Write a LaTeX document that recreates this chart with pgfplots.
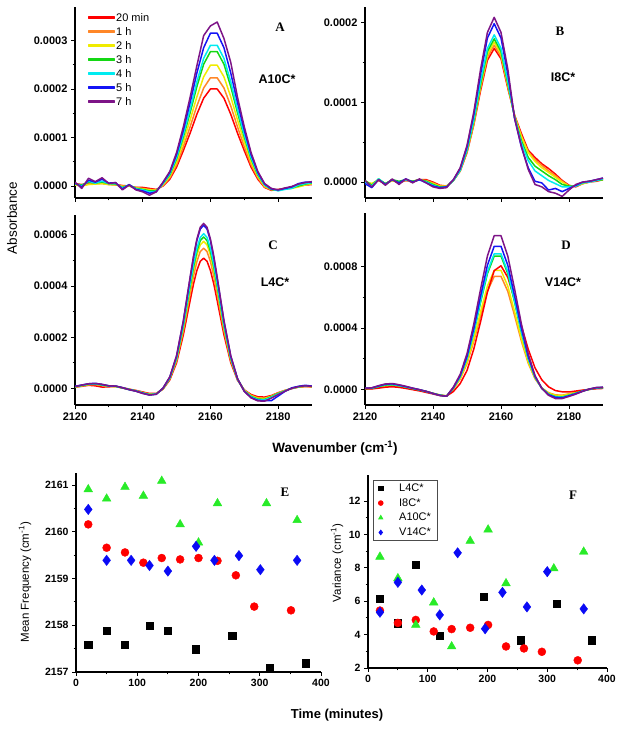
\documentclass[border=0pt]{standalone}
\usepackage{pgfplots}
\usepackage{pgfplotstable}
\pgfplotsset{compat=1.18}
\usepackage{fontspec}
\setmainfont{Liberation Sans}
\newfontfamily\seriffont{Liberation Serif}

\definecolor{cR}{RGB}{255,0,0}
\definecolor{cO}{RGB}{255,135,40}
\definecolor{cY}{RGB}{240,235,0}
\definecolor{cG}{RGB}{20,215,20}
\definecolor{cC}{RGB}{0,235,240}
\definecolor{cB}{RGB}{20,20,245}
\definecolor{cP}{RGB}{125,20,135}
\definecolor{mG}{RGB}{40,235,40}
\definecolor{mB}{RGB}{10,10,245}

% absorbance values in units of 1e-4
\pgfplotstableread{
x R O Y G C B P
2120 .05 .03 .02 .04 .05 .06 .08
2122 .03 .02 .00 .02 .00 -.02 -.05
2124 .06 .04 .03 .08 .10 .12 .16
2126 .07 .05 .04 .06 .06 .08 .09
2128 .06 .05 .05 .08 .10 .14 .17
2130 .04 .03 .03 .05 .05 .06 .05
2132 .03 .02 .03 .04 .05 .07 .07
2134 .01 .00 -.01 -.03 -.04 -.06 -.08
2136 .00 .00 .00 .02 .02 .03 .02
2138 -.03 -.03 -.04 -.05 -.06 -.07 -.08
2140 -.03 -.05 -.06 -.07 -.08 -.10 -.12
2142 -.05 -.07 -.08 -.10 -.12 -.15 -.19
2144 -.07 -.08 -.09 -.10 -.11 -.12 -.12
2146 .00 .01 .03 .05 .05 .07 .08
2148 .14 .17 .20 .23 .25 .28 .30
2150 .39 .44 .50 .56 .59 .65 .69
2152 .73 .81 .91 1.01 1.06 1.15 1.22
2154 1.09 1.22 1.36 1.51 1.58 1.72 1.83
2156 1.48 1.65 1.84 2.05 2.15 2.33 2.48
2158 1.81 2.02 2.25 2.51 2.63 2.85 3.10
2160 2.00 2.23 2.49 2.77 2.90 3.15 3.30
2162 2.00 2.23 2.49 2.77 2.90 3.15 3.38
2164 1.81 2.02 2.25 2.51 2.63 2.85 3.04
2166 1.48 1.65 1.84 2.05 2.15 2.33 2.55
2168 1.09 1.22 1.36 1.51 1.58 1.72 1.83
2170 .73 .81 .91 1.01 1.06 1.15 1.22
2172 .39 .44 .50 .56 .59 .65 .69
2174 .14 .17 .20 .23 .25 .28 .30
2176 -.03 -.02 .00 .02 .02 .04 .05
2178 -.09 -.08 -.07 -.07 -.06 -.06 -.05
2180 -.07 -.08 -.08 -.09 -.10 -.08 -.08
2182 -.05 -.05 -.06 -.06 -.07 -.05 -.04
2184 -.03 -.04 -.05 -.04 -.05 -.02 -.01
2186 .00 .00 -.02 .00 .02 .05 .04
2188 .02 .03 .02 .04 .05 .08 .07
2190 .03 .04 .05 .06 .07 .08 .09
}\tabA

\pgfplotstableread{
x R O Y G C B P
2120 .00 .00 .01 .02 .00 -.02 .02
2122 -.03 -.02 -.02 -.04 -.05 -.07 -.06
2124 .02 .02 .03 .04 .04 .03 .03
2126 -.02 -.02 -.03 -.02 -.03 -.03 -.04
2128 .02 .02 .02 .03 .03 .03 .04
2130 -.01 .00 .00 .01 -.01 -.01 -.03
2132 .02 .02 .03 .03 .03 .04 .04
2134 .01 .00 .01 .01 .00 .00 -.01
2136 .03 .03 .03 .03 .03 .03 .04
2138 .03 .02 .01 .01 .00 -.01 -.01
2140 .00 -.01 -.02 -.03 -.04 -.05 -.06
2142 -.04 -.05 -.05 -.06 -.07 -.07 -.08
2144 -.05 -.05 -.05 -.06 -.06 -.06 -.07
2146 .02 .02 .02 .02 .02 .03 .03
2148 .14 .14 .15 .15 .15 .17 .18
2150 .37 .38 .39 .40 .41 .44 .46
2152 .72 .73 .75 .77 .79 .85 .88
2154 1.15 1.18 1.21 1.23 1.27 1.36 1.42
2156 1.53 1.57 1.60 1.64 1.68 1.81 1.88
2158 1.68 1.72 1.76 1.80 1.85 1.99 2.07
2160 1.55 1.58 1.61 1.64 1.68 1.81 1.88
2162 1.18 1.20 1.22 1.24 1.27 1.36 1.42
2164 .84 .83 .83 .82 .81 .80 .80
2166 .61 .58 .57 .52 .49 .44 .45
2168 .40 .38 .37 .31 .27 .18 .16
2170 .31 .28 .26 .20 .14 .01 -.03
2172 .23 .21 .18 .14 .08 -.01 -.06
2174 .17 .14 .12 .08 .02 -.10 -.12
2176 .10 .08 .06 .03 -.02 -.08 -.14
2178 .02 .01 .00 -.03 -.06 -.12 -.18
2180 -.04 -.05 -.05 -.05 -.06 -.08 -.10
2182 -.06 -.05 -.05 -.05 -.05 -.04 -.03
2184 -.02 -.02 -.02 -.01 -.01 .00 .00
2186 .00 .01 .00 .01 .00 .01 .01
2188 .01 .02 .02 .02 .02 .03 .03
2190 .03 .04 .03 .03 .04 .05 .05
}\tabB

\pgfplotstableread{
x R O Y G C B P
2120 .05 .04 .06 .06 .07 .08 .07
2122 .08 .10 .10 .11 .12 .13 .13
2124 .12 .14 .15 .16 .17 .18 .18
2126 .10 .15 .17 .17 .18 .20 .19
2128 .05 .12 .12 .13 .14 .15 .16
2130 .06 .08 .08 .09 .10 .10 .10
2132 .08 .07 .07 .08 .08 .09 .09
2134 .03 .02 .01 .02 .02 .03 .02
2136 -.03 -.04 -.04 -.04 -.05 -.05 -.05
2138 -.08 -.09 -.10 -.10 -.10 -.11 -.11
2140 -.14 -.16 -.17 -.18 -.18 -.19 -.20
2142 -.20 -.22 -.23 -.24 -.25 -.26 -.26
2144 -.20 -.21 -.21 -.22 -.22 -.23 -.23
2146 -.03 -.02 -.01 -.01 .00 .01 .01
2148 .33 .37 .39 .40 .41 .44 .45
2150 1.00 1.08 1.13 1.17 1.20 1.26 1.28
2152 2.09 2.25 2.36 2.43 2.49 2.62 2.65
2154 3.43 3.69 3.88 3.99 4.08 4.30 4.35
2155 4.08 4.39 4.61 4.74 4.85 5.11 5.17
2156 4.61 4.96 5.21 5.36 5.48 5.78 5.84
2157 4.97 5.35 5.61 5.78 5.90 6.23 6.30
2158 5.09 5.48 5.75 5.92 6.05 6.38 6.45
2159 4.97 5.35 5.61 5.78 5.90 6.23 6.30
2160 4.61 4.96 5.21 5.36 5.48 5.78 5.84
2161 4.08 4.39 4.61 4.74 4.85 5.11 5.17
2162 3.43 3.69 3.88 3.99 4.08 4.30 4.35
2164 2.09 2.25 2.36 2.43 2.49 2.62 2.65
2166 1.01 1.09 1.13 1.17 1.20 1.26 1.28
2168 .32 .35 .36 .36 .36 .38 .38
2170 -.06 -.07 -.08 -.10 -.10 -.11 -.12
2172 -.24 -.27 -.29 -.31 -.33 -.36 -.37
2174 -.33 -.37 -.39 -.42 -.44 -.47 -.49
2176 -.34 -.38 -.40 -.43 -.45 -.48 -.50
2178 -.28 -.30 -.32 -.33 -.35 -.48 -.38
2180 -.17 -.18 -.20 -.20 -.22 -.30 -.24
2182 -.08 -.08 -.09 -.10 -.10 -.12 -.11
2184 -.01 .00 .00 .00 .00 .02 .00
2186 .05 .05 .06 .06 .07 .08 .07
2188 .07 .08 .08 .09 .10 .12 .10
2190 .06 .06 .07 .08 .08 .09 .08
}\tabC

\pgfplotstableread{
x R O Y G C B P
2120 .02 .03 .04 .05 .06 .07 .07
2122 .03 .05 .06 .07 .08 .10 .10
2124 .08 .12 .14 .18 .20 .22 .24
2126 .14 .20 .22 .28 .30 .33 .35
2128 .17 .22 .25 .30 .32 .36 .38
2130 .13 .18 .20 .24 .25 .28 .30
2132 .06 .10 .12 .15 .16 .18 .20
2134 -.02 .02 .03 .05 .06 .08 .08
2136 -.10 -.06 -.05 -.04 -.03 -.02 -.02
2138 -.20 -.15 -.14 -.14 -.14 -.13 -.13
2140 -.30 -.26 -.26 -.26 -.27 -.27 -.27
2142 -.40 -.36 -.37 -.38 -.38 -.39 -.40
2144 -.44 -.42 -.43 -.44 -.44 -.45 -.45
2146 -.14 .02 .04 .08 .09 .12 .15
2148 .38 .67 .72 .83 .84 .90 .98
2150 1.23 1.68 1.77 2.00 2.03 2.15 2.32
2152 2.63 3.14 3.30 3.70 3.76 3.97 4.26
2154 4.42 4.81 5.06 5.67 5.77 6.09 6.54
2156 6.34 6.39 6.73 7.54 7.67 8.09 8.69
2158 7.74 7.37 7.76 8.69 8.84 9.33 10.02
2160 8.06 7.37 7.76 8.69 8.84 9.33 10.02
2162 7.30 6.39 6.73 7.54 7.67 8.09 8.69
2164 5.85 4.81 5.06 5.67 5.77 6.09 6.54
2166 4.15 3.14 3.30 3.70 3.76 3.97 4.26
2168 2.62 1.71 1.79 2.01 2.03 2.15 2.31
2170 1.40 .69 .73 .80 .80 .85 .90
2172 .62 .09 .09 .07 .06 .07 .06
2174 .16 -.22 -.25 -.31 -.33 -.35 -.39
2176 -.08 -.36 -.39 -.47 -.50 -.52 -.60
2178 -.16 -.38 -.41 -.50 -.52 -.55 -.60
2180 -.17 -.29 -.31 -.38 -.40 -.42 -.46
2182 -.11 -.20 -.21 -.25 -.27 -.28 -.31
2184 -.05 -.08 -.09 -.11 -.11 -.12 -.13
2186 .00 .00 .00 .00 .01 .02 .02
2188 .04 .07 .08 .09 .10 .11 .12
2190 .06 .08 .09 .11 .12 .13 .14
}\tabD

\pgfplotsset{
  base/.style={
    scale only axis, axis x line*=bottom, axis y line*=left,
    tick align=outside, major tick length=4pt, minor tick length=2.5pt,
    axis line style={line width=1.2pt, black},
    tick style={black, line width=0.9pt},
    /pgf/number format/assume math mode=true,
    /pgf/number format/set thousands separator={},
    minor x tick num=1, minor y tick num=1,
  },
  spec/.style={base,
    xmin=2120, xmax=2190, xtick={2120,2140,2160,2180},
    ticklabel style={font=\bfseries\fontsize{11}{12}\selectfont},
  },
  sl/.style={line width=1.5pt, line join=round, mark=none},
  lg/.style={legend image code/.code={\fill[#1] (0pt,-0.7pt) rectangle (26pt,0.7pt);}},
  scat/.style={base,
    xmin=0, xmax=400, xtick={0,100,200,300,400},
    ticklabel style={font=\bfseries\fontsize{10.5}{12}\selectfont},
  },
  sqm/.style={only marks, mark=square*, mark size=3.6pt, draw=black, fill=black},
  cim/.style={only marks, mark=*, mark size=4pt, draw=cR, fill=cR},
  trm/.style={only marks, mark=triangle*, mark size=5pt, draw=mG, fill=mG},
  dim/.style={only marks, mark=diamond*, mark size=5.2pt, draw=mB, fill=mB},
}

\begin{document}
\begin{tikzpicture}[x=1pt,y=1pt]
\useasboundingbox (0,0) rectangle (624,730);

% ---------- A ----------
\begin{axis}[spec, at={(75pt,532pt)}, anchor=south west, width=237pt, height=191pt,
  ymin=-0.247, ymax=3.69, ytick={0,1,2,3},
  yticklabels={0.0000,0.0001,0.0002,0.0003}, xticklabels={},
  legend style={at={(axis description cs:0.04,0.985)}, anchor=north west,
    draw=none, fill=none, font=\fontsize{11}{12}\selectfont, row sep=3pt,
    nodes={inner sep=1pt, text height=8pt, text depth=1pt}},
  legend cell align=left]
\addplot[sl, draw=cR, lg=cR] table[x=x,y=R]{\tabA}; \addlegendentry{20 min}
\addplot[sl, draw=cO, lg=cO] table[x=x,y=O]{\tabA}; \addlegendentry{1 h}
\addplot[sl, draw=cY, lg=cY] table[x=x,y=Y]{\tabA}; \addlegendentry{2 h}
\addplot[sl, draw=cG, lg=cG] table[x=x,y=G]{\tabA}; \addlegendentry{3 h}
\addplot[sl, draw=cC, lg=cC] table[x=x,y=C]{\tabA}; \addlegendentry{4 h}
\addplot[sl, draw=cB, lg=cB] table[x=x,y=B]{\tabA}; \addlegendentry{5 h}
\addplot[sl, draw=cP, lg=cP] table[x=x,y=P]{\tabA}; \addlegendentry{7 h}
\end{axis}

% ---------- B ----------
\begin{axis}[spec, at={(365pt,532pt)}, anchor=south west, width=238pt, height=191pt,
  ymin=-0.20, ymax=2.20, ytick={0,1,2},
  yticklabels={0.0000,0.0001,0.0002}, xticklabels={}]
\addplot[sl, draw=cR] table[x=x,y=R]{\tabB};
\addplot[sl, draw=cO] table[x=x,y=O]{\tabB};
\addplot[sl, draw=cY] table[x=x,y=Y]{\tabB};
\addplot[sl, draw=cG] table[x=x,y=G]{\tabB};
\addplot[sl, draw=cC] table[x=x,y=C]{\tabB};
\addplot[sl, draw=cB] table[x=x,y=B]{\tabB};
\addplot[sl, draw=cP] table[x=x,y=P]{\tabB};
\end{axis}

% ---------- C ----------
\begin{axis}[spec, at={(75pt,325pt)}, anchor=south west, width=237pt, height=190pt,
  ymin=-0.65, ymax=6.78, ytick={0,2,4,6},
  yticklabels={0.0000,0.0002,0.0004,0.0006}]
\addplot[sl, draw=cR] table[x=x,y=R]{\tabC};
\addplot[sl, draw=cO] table[x=x,y=O]{\tabC};
\addplot[sl, draw=cY] table[x=x,y=Y]{\tabC};
\addplot[sl, draw=cG] table[x=x,y=G]{\tabC};
\addplot[sl, draw=cC] table[x=x,y=C]{\tabC};
\addplot[sl, draw=cB] table[x=x,y=B]{\tabC};
\addplot[sl, draw=cP] table[x=x,y=P]{\tabC};
\end{axis}

% ---------- D ----------
\begin{axis}[spec, at={(365pt,325pt)}, anchor=south west, width=238pt, height=192pt,
  ymin=-1.02, ymax=11.5, ytick={0,4,8},
  yticklabels={0.0000,0.0004,0.0008}]
\addplot[sl, draw=cO] table[x=x,y=O]{\tabD};
\addplot[sl, draw=cY] table[x=x,y=Y]{\tabD};
\addplot[sl, draw=cR] table[x=x,y=R]{\tabD};
\addplot[sl, draw=cG] table[x=x,y=G]{\tabD};
\addplot[sl, draw=cC] table[x=x,y=C]{\tabD};
\addplot[sl, draw=cB] table[x=x,y=B]{\tabD};
\addplot[sl, draw=cP] table[x=x,y=P]{\tabD};
\end{axis}

% ---------- E ----------
\begin{axis}[scat, at={(76pt,58pt)}, anchor=south west, width=245pt, height=199pt,
  ymin=2157, ymax=2161.26, ytick={2157,2158,2159,2160,2161}]
\addplot[sqm] coordinates {(20,2157.59) (50,2157.88) (80,2157.59) (120,2157.99) (150,2157.88) (195,2157.49) (255,2157.78) (316,2157.09) (375,2157.19)};
\addplot[cim] coordinates {(20,2160.16) (50,2159.66) (80,2159.56) (110,2159.34) (140,2159.44) (170,2159.41) (200,2159.44) (231,2159.38) (261,2159.07) (291,2158.40) (351,2158.32)};
\addplot[trm] coordinates {(20,2160.91) (50,2160.71) (80,2160.96) (110,2160.77) (140,2161.09) (170,2160.16) (200,2159.77) (231,2160.61) (311,2160.61) (361,2160.25)};
\addplot[dim] coordinates {(20,2160.48) (50,2159.39) (90,2159.39) (120,2159.28) (150,2159.16) (196,2159.69) (226,2159.39) (266,2159.49) (301,2159.19) (361,2159.39)};
\end{axis}

% ---------- F ----------
\begin{axis}[scat, at={(368pt,62pt)}, anchor=south west, width=239pt, height=193pt,
  ymin=2, ymax=13.56, ytick={2,4,6,8,10,12},
  legend style={at={(axis description cs:0.021,0.974)}, anchor=north west,
    draw=black!70, line width=0.7pt, fill=white, font=\fontsize{11}{12}\selectfont,
    row sep=2.7pt, inner xsep=5pt, inner ysep=2pt,
    nodes={inner sep=1pt, text height=8pt, text depth=2pt},
    /tikz/every odd column/.append style={column sep=15pt}},
  legend cell align=left,
  legend image post style={mark size=2.4pt}]
\addplot[sqm] coordinates {(20,6.17) (50,4.68) (80,8.2) (120,3.95) (194,6.27) (255,3.67) (316,5.84) (375,3.67)};
\addlegendentry{L4C*}
\addplot[cim] coordinates {(20,5.44) (50,4.70) (80,4.88) (110,4.19) (140,4.33) (171,4.41) (201,4.58) (231,3.29) (261,3.17) (291,2.97) (351,2.46)};
\addlegendentry{I8C*}
\addplot[trm] coordinates {(20,8.66) (50,7.37) (80,4.58) (110,5.92) (140,3.29) (171,9.61) (201,10.29) (231,7.07) (311,7.96) (361,8.96)};
\addlegendentry{A10C*}
\addplot[dim] coordinates {(20,5.34) (50,7.13) (90,6.67) (120,5.18) (150,8.9) (196,4.35) (225,6.53) (266,5.66) (300,7.77) (361,5.54)};
\addlegendentry{V14C*}
\end{axis}

% ---------- panel letters and names ----------
\begin{scope}[every node/.style={inner sep=0pt}]
\node at (280,703) {\seriffont\bfseries\fontsize{13}{14}\selectfont A};
\node at (277,651) {\bfseries\fontsize{12.5}{14}\selectfont A10C*};
\node at (560,699) {\seriffont\bfseries\fontsize{13}{14}\selectfont B};
\node at (563,653) {\bfseries\fontsize{12.5}{14}\selectfont I8C*};
\node at (273,485) {\seriffont\bfseries\fontsize{13}{14}\selectfont C};
\node at (275,448) {\bfseries\fontsize{12.5}{14}\selectfont L4C*};
\node at (566,485) {\seriffont\bfseries\fontsize{13}{14}\selectfont D};
\node at (563,448) {\bfseries\fontsize{12.5}{14}\selectfont V14C*};
\node at (285,238) {\seriffont\bfseries\fontsize{13}{14}\selectfont E};
\node at (573,235) {\seriffont\bfseries\fontsize{13}{14}\selectfont F};
% axis titles
\node[rotate=90] at (12,512) {\fontsize{13.5}{15}\selectfont Absorbance};
\node at (335,282) {\bfseries\fontsize{13.5}{15}\selectfont Wavenumber (cm\textsuperscript{-1})};
\node at (337,15) {\bfseries\fontsize{13}{15}\selectfont Time (minutes)};
\node[rotate=90] at (25,148) {\fontsize{11.5}{13}\selectfont Mean Frequency (cm\textsuperscript{-1})};
\node[rotate=90] at (337,167) {\fontsize{11.5}{13}\selectfont Variance (cm\textsuperscript{-1})};
\end{scope}
\end{tikzpicture}
\end{document}
